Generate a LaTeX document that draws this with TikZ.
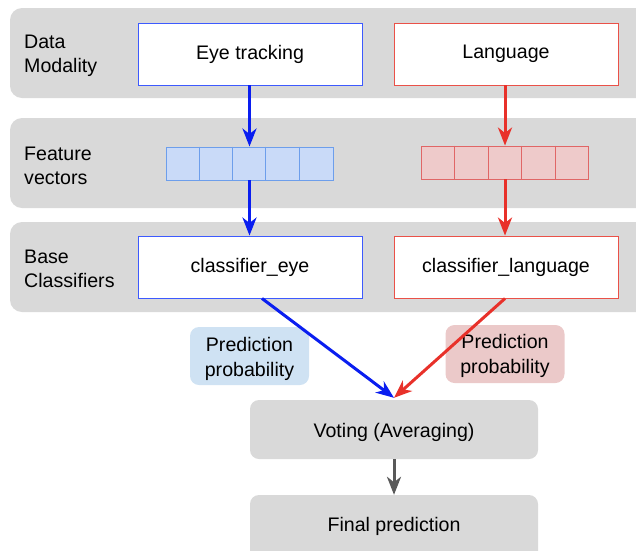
\documentclass[tikz,border=0pt]{standalone}
\usepackage{fontspec}
\setmainfont{Liberation Sans}
\usetikzlibrary{arrows.meta,calc}
\definecolor{bandgray}{HTML}{D9D9D9}
\definecolor{eyeblue}{HTML}{0A1EF0}
\definecolor{eyeborder}{HTML}{3D5AFE}
\definecolor{langred}{HTML}{E8312A}
\definecolor{langborder}{HTML}{EA5148}
\definecolor{vecbluefill}{HTML}{C9DAF8}
\definecolor{vecblueline}{HTML}{6D9EEB}
\definecolor{vecredfill}{HTML}{EECACA}
\definecolor{vecredline}{HTML}{E06666}
\definecolor{ppblue}{HTML}{CFE2F3}
\definecolor{ppred}{HTML}{EBC9C9}
\definecolor{arrgray}{HTML}{595959}
\tikzset{
  txt/.style={font=\fontsize{19.6}{24.5}\selectfont},
  band/.style={fill=bandgray, draw=none, rounded corners=12pt},
  rowlabel/.style={txt, anchor=west, align=left, inner sep=0pt},
  modbox/.style={txt, draw, fill=white, line width=0.9pt, minimum width=224pt, minimum height=62pt, inner sep=0pt},
  vecbox/.style={draw, line width=0.9pt, minimum width=167pt, minimum height=33pt, inner sep=0pt},
  ppbox/.style={txt, align=center, rounded corners=9pt, minimum width=119pt, minimum height=58pt, inner sep=0pt},
  graybox/.style={txt, fill=bandgray, rounded corners=9pt, minimum width=288pt, inner sep=0pt},
  arr/.style={line width=3pt, -{Stealth[length=18pt,width=14pt,inset=5.5pt]}},
}
\begin{document}
\begin{tikzpicture}[x=1pt,y=-1pt]
\useasboundingbox (0,0) rectangle (636,550);
\clip (0,0) rectangle (636,550);
% bands
\path[band] (10,8) rectangle (660,98);
\path[band] (10,118) rectangle (660,208);
\path[band] (10,222) rectangle (660,312);
% row labels
\node[rowlabel] (l1) at (24,56) {Data\\Modality};
\node[rowlabel] (l2) at (24,166) {Feature\\vectors};
\node[rowlabel] (l3) at (24,269) {Base\\Classifiers};
% modality boxes
\node[modbox, draw=eyeborder] (eye) at (250,54) {Eye tracking};
\node[modbox, draw=langborder] (lang) at (506,54) {Language};
% feature vectors
\node[vecbox, draw=vecblueline, fill=vecbluefill] (vecE) at (249.5,163.5) {};
\node[vecbox, draw=vecredline, fill=vecredfill] (vecL) at (505,162.5) {};
\foreach \i in {1,2,3,4} {
  \draw[vecblueline, line width=0.9pt] ($(vecE.north west)+(\i*33.4,0)$) -- ($(vecE.south west)+(\i*33.4,0)$);
  \draw[vecredline, line width=0.9pt] ($(vecL.north west)+(\i*33.6,0)$) -- ($(vecL.south west)+(\i*33.6,0)$);
}
% classifier boxes
\node[modbox, draw=eyeborder] (ceye) at (250,267) {classifier\_eye};
\node[modbox, draw=langborder] (clang) at (506,267) {classifier\_language};
% prediction probability
\node[ppbox, fill=ppblue] (ppE) at (249.5,356) {};
\node[txt, align=center, inner sep=0pt] (ppEt) at (249.5,359) {Prediction\\probability};
\node[ppbox, fill=ppred] (ppL) at (505,354) {};
\node[txt, align=center, inner sep=0pt] (ppLt) at (505,356) {Prediction\\probability};
% voting and final
\node[graybox, minimum height=59pt] (vote) at (394,429.5) {};
\node[txt] (votet) at (394,432) {Voting (Averaging)};
\node[graybox, minimum height=70pt] (final) at (394,530) {};
\node[txt] (finaltxt) at (394,526.5) {Final prediction};
% arrows
\draw[arr, eyeblue] (eye.south -| vecE.north) -- (vecE.north);
\draw[arr, eyeblue] (vecE.south) -- (vecE.south |- ceye.north);
\draw[arr, langred] (lang.south -| vecL.north) -- (vecL.north);
\draw[arr, langred] (vecL.south) -- (vecL.south |- clang.north);
\coordinate (vin) at ($(vote.north)+(0,-2)$);
\draw[arr, eyeblue] ([xshift=12pt]ceye.south) -- (vin);
\draw[arr, langred] (clang.south -| vecL.south) -- (vin);
\draw[arr, arrgray] (vote.south) -- (final.north);
\end{tikzpicture}
\end{document}
